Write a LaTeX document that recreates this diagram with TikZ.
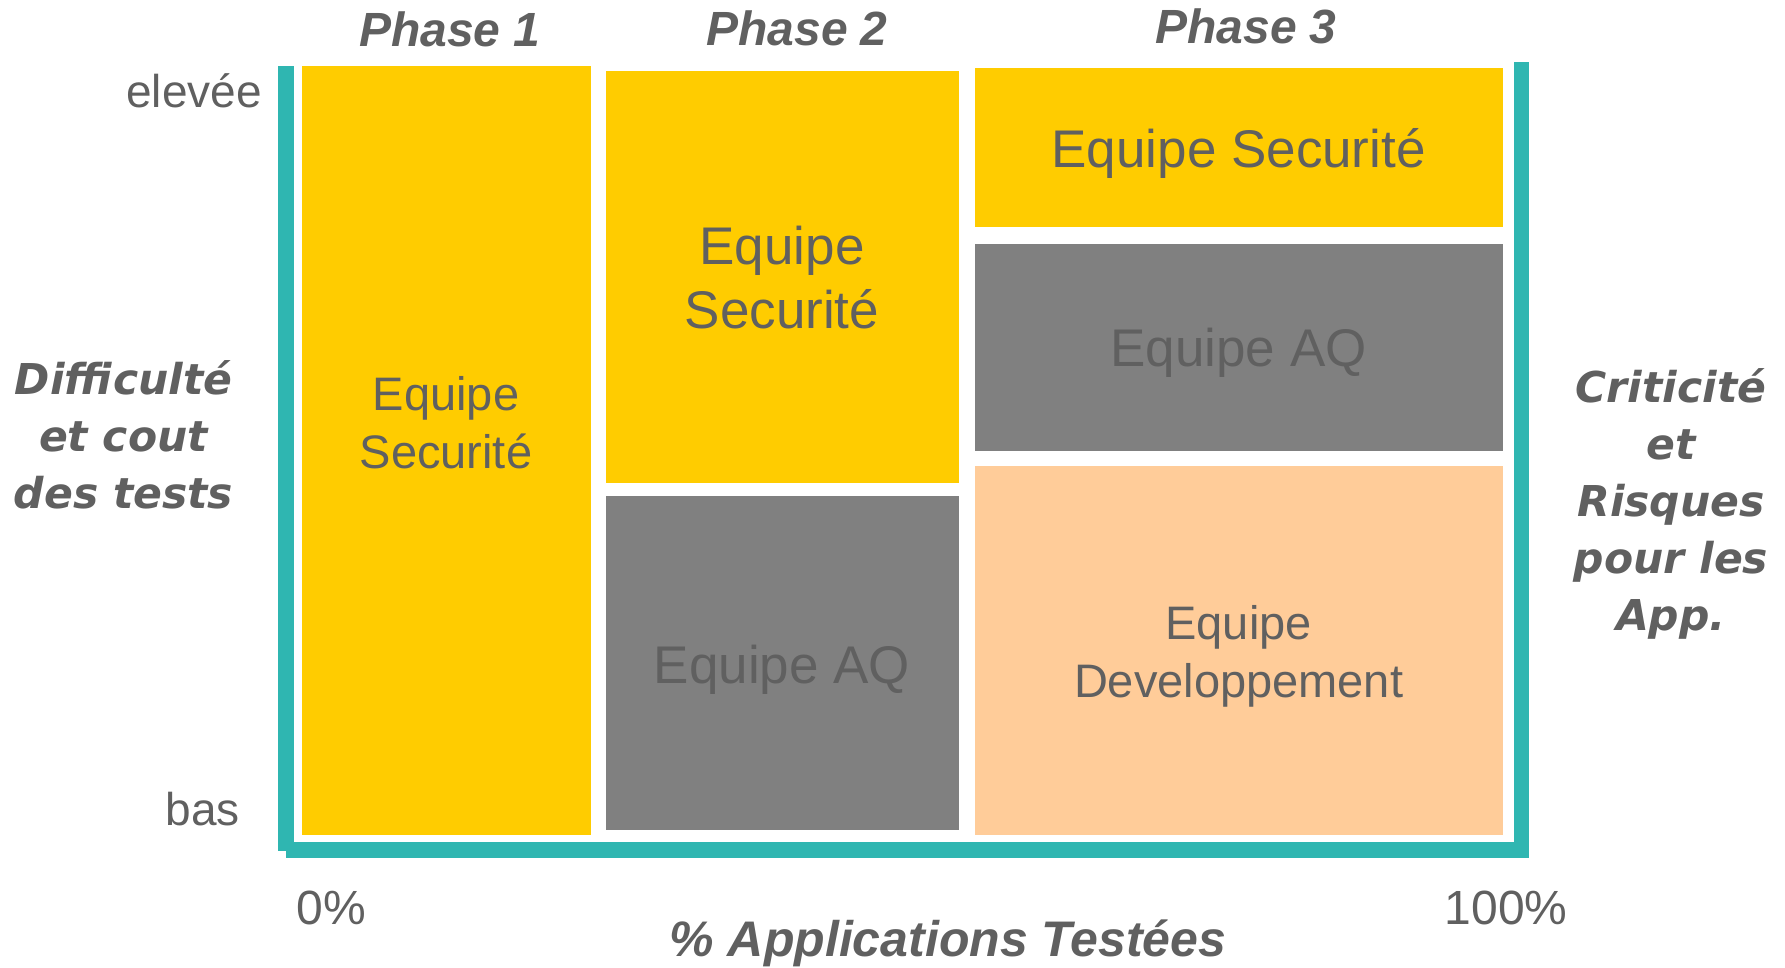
\documentclass[tikz,border=0pt]{standalone}
\usepackage{fontspec}
\setmainfont{Liberation Sans}
\newfontfamily\largefont{DejaVu Sans}
\usepackage{xcolor}
\usetikzlibrary{positioning}
\definecolor{jaune}{HTML}{FFCC00}
\definecolor{grisbox}{HTML}{808080}
\definecolor{peche}{HTML}{FFCC99}
\definecolor{turq}{HTML}{2FB6B1}
\definecolor{texte}{HTML}{606060}

\begin{document}
\begin{tikzpicture}[x=1pt,y=-1pt,
txt/.style={inner sep=0pt,text=texte,anchor=base,align=center,font=\fontsize{47}{57.5}\selectfont},
grand/.style={txt,font=\fontsize{53}{64}\selectfont},
axe/.style={txt,font=\fontsize{46}{55}\selectfont},
phase/.style={txt,font=\fontsize{48}{57}\selectfont\bfseries\itshape},
cote/.style={txt,font=\largefont\fontsize{42.5}{57}\selectfont\bfseries\itshape}]
\useasboundingbox (0,0) rectangle (1785,967);
% cadre
\fill[turq](278,66)rectangle(294,851);
\fill[turq](286,842)rectangle(1529,858);
\fill[turq](1514,62)rectangle(1529,858);
% blocs
\fill[jaune](302,66)rectangle(591,834.5);
\fill[jaune](605.6,70.6)rectangle(958.5,482.7);
\fill[grisbox](605.6,496.3)rectangle(958.5,830);
\fill[jaune](974.5,68.3)rectangle(1502.7,226.5);
\fill[grisbox](974.5,243.6)rectangle(1502.7,450.8);
\fill[peche](974.5,465.6)rectangle(1502.7,834.5);
% textes (base = derniere ligne)
\node[txt](s1) at (446,468){Equipe\\Securit\'e};
\node[grand](s2) at (782,328){Equipe\\Securit\'e};
\node[grand](q2) at (782,683){Equipe AQ};
\node[grand](s3) at (1238.6,167){Equipe Securit\'e};
\node[grand](q3) at (1238.6,366.6){Equipe AQ};
\node[txt](d3) at (1238.6,697){Equipe\\Developpement};
\node[phase](ph1) at (450,46){Phase 1};
\node[phase](ph2) at (797,45){Phase 2};
\node[phase](ph3) at (1246,43){Phase 3};
\node[axe,anchor=base east](haut) at (262,107){elev\'ee};
\node[axe,anchor=base east](bas) at (240,825){bas};
\node[txt,font=\fontsize{48}{57}\selectfont](p0) at (331,924){0\%};
\node[txt,font=\fontsize{48}{57}\selectfont](p100) at (1506,924){100\%};
\node[phase,font=\fontsize{50}{57}\selectfont\bfseries\itshape](appli) at (948,956){\% Applications Test\'ees};
\node[cote](diff) at (123.5,508){Difficult\'e\\et cout\\des tests};
\node[cote](crit) at (1671,630){Criticit\'e\\et\\Risques\\pour les\\App.};
\end{tikzpicture}
\end{document}
